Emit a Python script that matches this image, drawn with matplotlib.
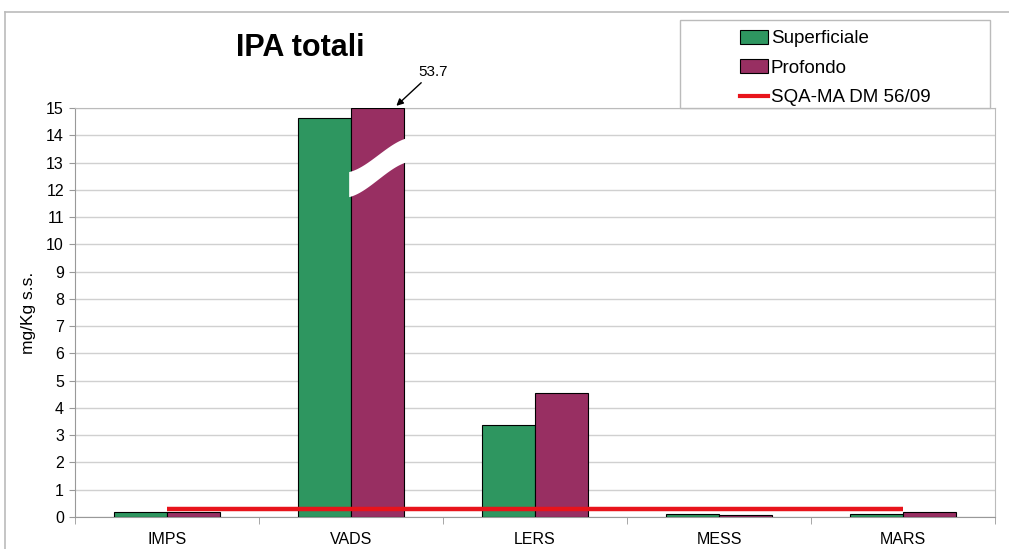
import matplotlib
matplotlib.use("Agg")
import matplotlib.pyplot as plt
import numpy as np
from matplotlib.patches import Rectangle, Patch, Polygon
from matplotlib.lines import Line2D

plt.rcParams['font.family'] = ['Liberation Sans', 'DejaVu Sans']

categories = ["IMPS", "VADS", "LERS", "MESS", "MARS"]
superficiale = [0.18, 14.65, 3.38, 0.10, 0.10]
profondo = [0.20, 15.0, 4.55, 0.08, 0.17]
sqa_value = 0.3
profondo_true_vads = 53.7

green = "#2E9660"
purple = "#982F62"

fig = plt.figure(figsize=(10.09, 5.49), dpi=100)
W, H = 1009, 549
ax = fig.add_axes([75 / W, 1 - 517 / H, (995 - 75) / W, (517 - 108) / H])

x = np.arange(len(categories))
bw = 0.29
ax.bar(x - bw / 2, superficiale, width=bw, color=green, edgecolor="black", linewidth=0.8, zorder=3)
ax.bar(x + bw / 2, profondo, width=bw, color=purple, edgecolor="black", linewidth=0.8, zorder=3)
ax.plot([x[0], x[-1]], [sqa_value, sqa_value], color="#E8141B", linewidth=3.2, zorder=4, solid_capstyle="butt")

# break mark on VADS purple bar
xl = x[1] - 0.01
xr = x[1] + bw + 0.02
t = np.linspace(0, 1, 40)
s = 3 * t**2 - 2 * t**3
s = 0.4 * t + 0.6 * s
top = 12.65 + (13.9 - 12.65) * s
bot = 11.73 + (13.02 - 11.73) * s
xs = xl + (xr - xl) * t
poly = np.vstack([np.column_stack([xs, top]), np.column_stack([xs[::-1], bot[::-1]])])
ax.add_patch(Polygon(poly, closed=True, facecolor="white", edgecolor="none", zorder=5))

ax.set_xlim(-0.5, 4.5)
ax.set_ylim(0, 15)
ax.set_yticks(range(0, 16))
ax.set_xticks(x)
ax.set_xticklabels(categories)
ax.set_xticks(np.arange(-0.5, 4.6, 1), minor=True)
ax.tick_params(axis="x", which="major", length=0, pad=11, labelsize=11.5)
ax.tick_params(axis="x", which="minor", length=5, color="#999999", direction="out")
ax.tick_params(axis="y", length=4, color="#999999", labelsize=11.5, pad=4)
ax.grid(axis="y", color="#D0D0D0", linewidth=1, zorder=0)
for sp in ["top", "right"]:
    ax.spines[sp].set_color("#BBBBBB")
ax.spines["left"].set_color("#999999")
ax.spines["bottom"].set_color("#999999")
ax.set_ylabel("mg/Kg s.s.", fontsize=12.5, labelpad=7)

ax.annotate(str(profondo_true_vads), xy=(x[1] + bw * 0.85, 15.08), xycoords="data",
            xytext=(418 / W, 1 - 72 / H), textcoords="figure fraction",
            fontsize=11, ha="left", va="center", annotation_clip=False,
            arrowprops=dict(arrowstyle="-|>", color="black", lw=1.0, mutation_scale=10,
                            shrinkA=1, shrinkB=0))

fig.text(300 / W, 1 - 48 / H, "IPA totali", fontsize=22, fontweight="bold", ha="center", va="center")

# outer frame
fig.add_artist(Line2D([5 / W, 1], [1 - 12 / H, 1 - 12 / H], color="#BBBBBB", lw=1.2))
fig.add_artist(Line2D([5 / W, 5 / W], [0, 1 - 12 / H], color="#BBBBBB", lw=1.2))

# legend box
fig.add_artist(Rectangle((680 / W, 1 - 108 / H), (990 - 680) / W, (108 - 20) / H,
                         transform=fig.transFigure, facecolor="white", edgecolor="#BBBBBB",
                         lw=1.0, zorder=4))
handles = [Patch(facecolor=green, edgecolor="black", linewidth=0.8),
           Patch(facecolor=purple, edgecolor="black", linewidth=0.8),
           Line2D([0], [0], color="#E8141B", lw=3)]
labels = ["Superficiale", "Profondo", "SQA-MA DM 56/09"]
leg = fig.legend(handles, labels, loc="upper left", bbox_to_anchor=(738 / W, 1 - 28 / H),
                 frameon=False, fontsize=13.5, handlelength=1.5, handleheight=0.75,
                 handletextpad=0.15, labelspacing=0.65, borderaxespad=0, borderpad=0.1)
leg.set_zorder(6)

fig.savefig("out.png", dpi=100)
